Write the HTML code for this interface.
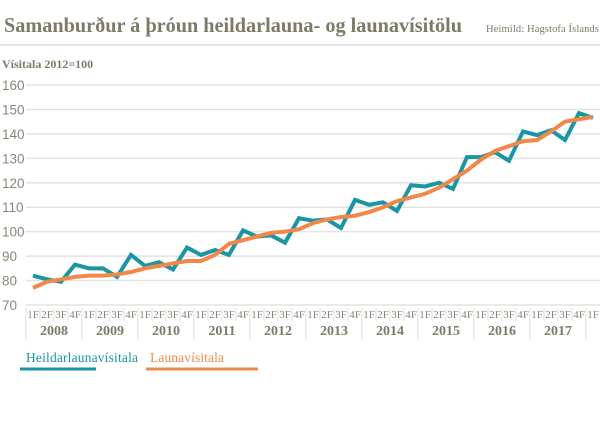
<!DOCTYPE html>
<html><head><meta charset="utf-8"><style>
body{margin:0;background:#fff;font-family:"Liberation Serif",serif;}
#wrap{position:relative;width:600px;height:437px;overflow:hidden;}
</style></head><body>
<div id="wrap">
<svg id="svg" width="600" height="437" xmlns="http://www.w3.org/2000/svg">
<text x="4" y="32" font-size="21" font-weight="bold" fill="#7d7a68" textLength="458" lengthAdjust="spacingAndGlyphs" font-family="Liberation Serif, serif">Samanburður á þróun heildarlauna- og launavísitölu</text>
<text x="486" y="32" font-size="10.5" fill="#7d7a68" textLength="113" font-family="Liberation Serif, serif">Heimild: Hagstofa Íslands</text>
<line x1="0" y1="45" x2="600" y2="45" stroke="#ccc" stroke-width="1"/>
<text x="2" y="68" font-size="12" font-weight="bold" fill="#7d7a68">Vísitala 2012=100</text>
<g id="grid"></g><g id="xaxis"></g><g id="lines"></g>
<line x1="20" y1="369" x2="96" y2="369" stroke="#1a95a3" stroke-width="3"/>
<text x="26" y="362" font-size="13.5" fill="#1a95a3" textLength="112">Heildarlaunavísitala</text>
<line x1="146" y1="369" x2="258" y2="369" stroke="#f0884a" stroke-width="3"/>
<text x="150" y="362" font-size="13.5" fill="#f0884a" textLength="74">Launavísitala</text>
</svg></div>
<script>
const years=["2008","2009","2010","2011","2012","2013","2014","2015","2016","2017"];
const quarters=["1F","2F","3F","4F"];
const yTicks=[70,80,90,100,110,120,130,140,150,160];
const heildar=[82,80.5,79.5,86.5,85,85,81.5,90.5,86,87.5,84.5,93.5,90.5,92.5,90.5,100.5,98,98.5,95.5,105.5,104.5,105,101.5,113,111,112,108.5,119,118.5,120,117.5,130.5,130.5,132.5,129,141,139.5,141.5,137.5,148.5,146.5];
const launa=[77,79.5,80.5,81.5,82,82,82.5,83.5,85,86,87,88,88,90.5,95,96.5,98,99.5,100,101,103.5,105,106,106.5,108,110,112.5,114,115.5,118,121.5,125,129.5,133,135,137,137.5,141,145,146,147];
const NS="http://www.w3.org/2000/svg";
const X0=26,BW=14,yv=v=>305-(v-70)*(220/90),xc=i=>X0+BW*i+BW/2;
function mk(t,a,p){const e=document.createElementNS(NS,t);for(const k in a)e.setAttribute(k,a[k]);p.appendChild(e);return e;}
const grid=document.getElementById('grid');
yTicks.forEach(v=>{
 const l=mk('line',{x1:X0,x2:600,y1:yv(v),y2:yv(v),stroke:'#e3e3e3','stroke-width':1.5},grid);
 
 
 const t=mk('text',{x:2,y:yv(v)+5,'font-size':13.5,fill:'#8a8776','font-family':'Liberation Sans, sans-serif'},grid);t.textContent=v;
 
 
});
const xa=document.getElementById('xaxis');
const n=heildar.length;
for(let i=0;i<n;i++){
 const t=mk('text',{x:xc(i),y:318,'font-size':11,fill:'#8a8776','text-anchor':'middle'},xa);t.textContent=quarters[i%4];
 
 
 const l=mk('line',{x1:X0+BW*i,x2:X0+BW*i,y1:308,y2:i%4==0?340:321,stroke:'#ddd'},xa);
 
 
}
years.forEach((y,k)=>{
 const t=mk('text',{x:X0+BW*(4*k+2),y:335,'font-size':14,'font-weight':'bold',fill:'#7d7a68','text-anchor':'middle'},xa);t.textContent=y;
 
 
});
const lg=document.getElementById('lines');
function line(d,c,name){const p=mk('polyline',{points:d.map((v,i)=>xc(i)+','+yv(v)).join(' '),fill:'none',stroke:c,'stroke-width':4,'stroke-linejoin':'miter'},lg);
 
 }
line(heildar,'#1a95a3','series-heildarlaunavisitala');
line(launa,'#f0884a','series-launavisitala');
</script>
</body></html>
